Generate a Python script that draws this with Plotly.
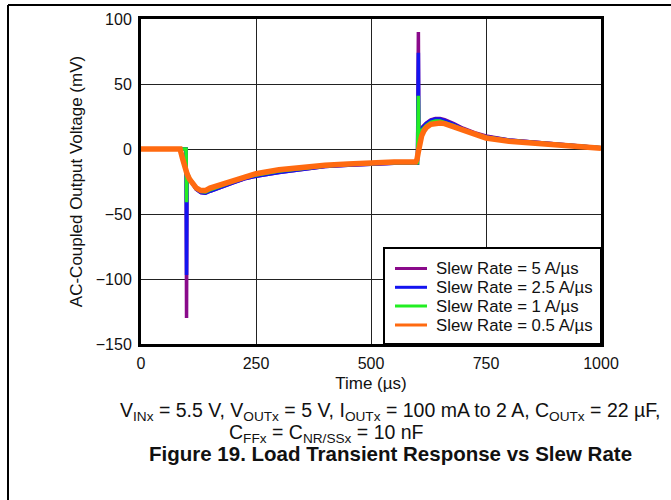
import plotly.graph_objects as go

# ---------------- data ----------------
labels = ["Slew Rate = 5 A/µs", "Slew Rate = 2.5 A/µs", "Slew Rate = 1 A/µs", "Slew Rate = 0.5 A/µs"]
colors = ["#8A0A8A", "#1414F0", "#22EE22", "#FF6A10"]

t_fast = [0, 20, 40, 60, 80, 98, 99, 100, 105, 110, 120, 130, 140, 150, 175, 200, 225, 250,
          300, 350, 400, 450, 500, 550, 601, 603, 604, 607, 612, 620, 630, 640, 650, 660,
          680, 700, 725, 750, 800, 850, 900, 950, 1000]

v_5a = [0, 0, -0.5, 0, 0, 0, -130, -19, -23, -26, -31, -33.5, -34, -32.5, -29, -26, -23, -21,
        -18, -15.5, -13.5, -12.5, -11.5, -11, -11, 90, 10, 14, 17, 20, 22.5, 23.5, 23.5, 22.5,
        19.5, 16, 12.5, 10, 7, 5.5, 4, 2.5, 1]
v_2p5a = [0, 0, -0.5, 0, 0, 0, -97, -19, -23, -26, -31, -33.5, -34, -32.5, -29, -26, -23, -21,
          -18, -15.5, -13.5, -12.5, -11.5, -11, -11, 74, 9.5, 13.5, 16.5, 19.5, 22, 23, 23, 22,
          19, 15.5, 12, 9.5, 7, 5.5, 4, 2.5, 1]
v_1a = [0, 0, -0.5, 0, 0, 0, -41, -18, -22, -25, -30, -32.5, -33, -31.5, -28, -25, -22, -20,
        -17, -15, -13, -12, -11, -10.5, -10.5, 41, 8, 12, 15, 18, 20.5, 21.5, 21.5, 20.5,
        18, 15, 11.5, 9, 6.5, 5, 3.5, 2, 1]

t_slow = [0, 20, 40, 60, 80, 85, 90, 95, 100, 105, 110, 120, 130, 140, 150, 175, 200, 225,
          250, 300, 350, 400, 450, 500, 550, 597, 600, 603, 606, 610, 615, 620, 630, 640, 650,
          660, 680, 700, 725, 750, 800, 850, 900, 950, 1000]
v_0p5a = [0, 0, -0.5, 0, 0, 0, -7, -14, -19, -23, -26, -30, -32, -32, -30, -27, -24, -21,
          -19, -16, -14, -12.5, -11.5, -10.5, -10, -10, -8, -2, 4, 10, 14, 16.5, 19, 20, 20,
          19.5, 17, 14, 11, 8.5, 6, 4.5, 3, 1.5, 0.5]

x_ticks = [0, 250, 500, 750, 1000]
y_ticks = [-150, -100, -50, 0, 50, 100]

FONT = "Arial, Liberation Sans, sans-serif"
INK = "#111"

fig = go.Figure()
series = [(t_fast, v_5a, 3.5), (t_fast, v_2p5a, 3.5), (t_fast, v_1a, 3.5), (t_slow, v_0p5a, 5.5)]
for (tx, vy, w), name, c in zip(series, labels, colors):
    fig.add_trace(go.Scatter(x=tx, y=vy, mode="lines", name=name, showlegend=False,
                             line=dict(color=c, width=w)))

# plot area: x 141..601 px, y 19..344 px
L, R, T, B = 141, 601, 19, 344
W, H = 671, 500
pw, ph = R - L, B - T


def px(xp):
    return (xp - L) / pw


def py(yp):
    return (B - yp) / ph


fig.update_layout(
    width=W, height=H,
    margin=dict(l=L, r=W - R, t=T, b=H - B, pad=0, autoexpand=False),
    paper_bgcolor="white", plot_bgcolor="white",
    font=dict(family=FONT, size=16, color=INK),
    showlegend=False,
    xaxis=dict(range=[0, 1000], tickvals=x_ticks, showgrid=True, gridcolor="#222",
               gridwidth=1, zeroline=False, showline=True, linecolor="black",
               linewidth=3, mirror=True, ticks="", ticklabelstandoff=3, automargin=False,
               tickfont=dict(size=16),
               title=dict(text="Time (µs)", font=dict(size=17), standoff=6)),
    yaxis=dict(range=[-150, 100], tickvals=y_ticks, showgrid=True, gridcolor="#222",
               gridwidth=1, zeroline=False, showline=True, linecolor="black",
               linewidth=3, mirror=True, ticks="", ticklabelstandoff=3, automargin=False,
               tickfont=dict(size=16),
               title=dict(text="AC-Coupled Output Voltage (mV)", font=dict(size=17),
                          standoff=9)),
)

# page frame lines
fig.add_shape(type="line", xref="paper", yref="paper", x0=px(8), x1=px(W + 5),
              y0=py(5), y1=py(5), line=dict(color="black", width=2))
fig.add_shape(type="line", xref="paper", yref="paper", x0=px(8), x1=px(8),
              y0=py(5), y1=py(H + 5), line=dict(color="black", width=2))

# legend box (drawn as shapes + text to match the compact reference legend)
fig.add_shape(type="rect", xref="paper", yref="paper", x0=px(384), x1=px(601),
              y0=py(344), y1=py(248), fillcolor="white", layer="above",
              line=dict(color="black", width=2))
row_y = [268.5, 287.3, 306, 325]
for name, c, ry in zip(labels, colors, row_y):
    fig.add_shape(type="line", xref="paper", yref="paper", x0=px(395), x1=px(427),
                  y0=py(ry), y1=py(ry), layer="above", line=dict(color=c, width=3))
    fig.add_annotation(text=name, xref="paper", yref="paper", x=px(434), y=py(ry),
                       xanchor="left", yanchor="middle", showarrow=False,
                       font=dict(size=16.8, color=INK))

line1 = ("V<sub>INx</sub> = 5.5 V, V<sub>OUTx</sub> = 5 V, I<sub>OUTx</sub> = 100 mA to 2 A, "
         "C<sub>OUTx</sub> = 22 µF,")
line2 = "C<sub>FFx</sub> = C<sub>NR/SSx</sub> = 10 nF"
title = "<b>Figure 19. Load Transient Response vs Slew Rate</b>"

fig.add_annotation(text=line1, xref="paper", yref="paper", x=px(390), y=py(412),
                   xanchor="center", yanchor="middle",
                   showarrow=False, font=dict(size=19.5, color=INK))
fig.add_annotation(text=line2, xref="paper", yref="paper", x=px(326), y=py(433),
                   xanchor="center", yanchor="middle",
                   showarrow=False, font=dict(size=19.5, color=INK))
fig.add_annotation(text=title, xref="paper", yref="paper", x=px(390), y=py(453),
                   xanchor="center", yanchor="middle",
                   showarrow=False, font=dict(size=20.5, color=INK))

fig.write_html("out.html", config={"displayModeBar": False},
               post_script="document.body.style.margin='0';document.body.style.padding='0';")
